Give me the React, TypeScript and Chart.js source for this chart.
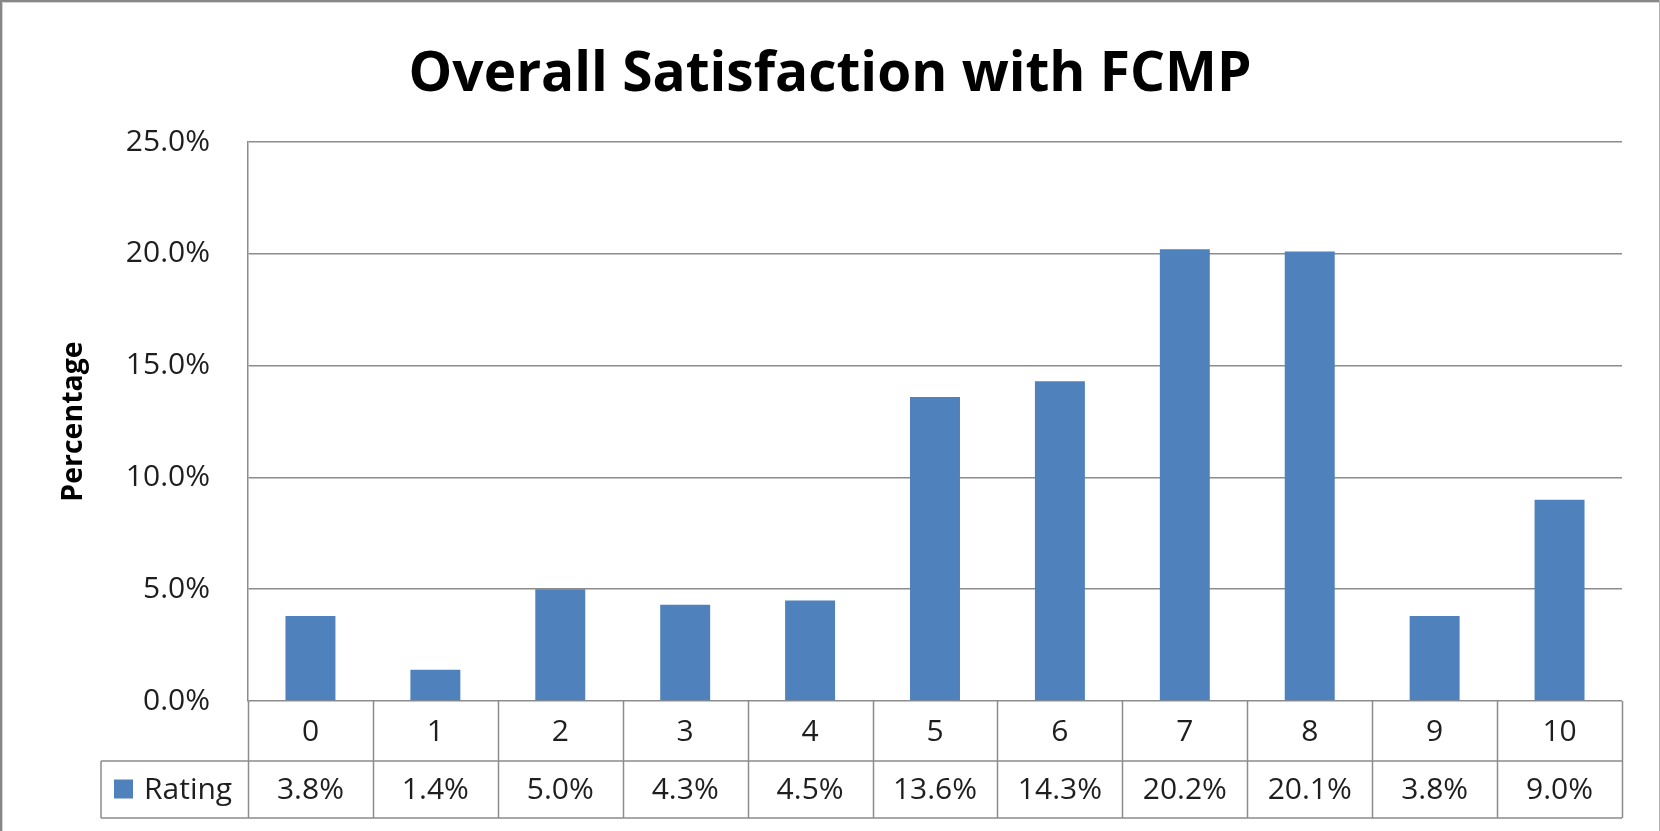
import React, { useEffect, useRef } from "react";
import { Chart, registerables } from "chart.js";

Chart.register(...registerables);

// ---- Data ----
const categories = ["0", "1", "2", "3", "4", "5", "6", "7", "8", "9", "10"];
const ratingValues = [3.8, 1.4, 5.0, 4.3, 4.5, 13.6, 14.3, 20.2, 20.1, 3.8, 9.0];
const seriesName = "Rating";
const yTickValues = [0, 5, 10, 15, 20, 25];
const chartTitle = "Overall Satisfaction with FCMP";
const yAxisTitle = "Percentage";

// ---- Styles ----
const BAR_COLOR = "#4F81BD";
const LINE_COLOR = "#8c8c8c";
const TEXT_COLOR = "#1e1e1e";
const FONT = "'Open Sans', 'Liberation Sans', sans-serif";
const W = 1660;
const H = 831;

const fmt = (v: number) => `${v.toFixed(1)}%`;

const frameAndTablePlugin = {
  id: "frameAndTable",
  beforeDraw(chart: any) {
    const { ctx } = chart;
    ctx.save();
    ctx.fillStyle = "#ffffff";
    ctx.fillRect(0, 0, chart.width, chart.height);
    ctx.restore();
  },
  afterDraw(chart: any) {
    const { ctx, chartArea } = chart;
    const xs = chart.scales.x;
    const n = categories.length;
    const top = chartArea.bottom;
    const mid = top + 60;
    const bot = top + 117;
    const legendLeft = 101;

    ctx.save();
    // table lines
    ctx.strokeStyle = LINE_COLOR;
    ctx.lineWidth = 1.5;
    ctx.beginPath();
    ctx.moveTo(legendLeft, mid);
    ctx.lineTo(chartArea.right, mid);
    ctx.moveTo(legendLeft, bot);
    ctx.lineTo(chartArea.right, bot);
    ctx.moveTo(legendLeft, mid);
    ctx.lineTo(legendLeft, bot);
    for (let i = 0; i <= n; i++) {
      const x = Math.round(xs.getPixelForValue(i - 0.5)) + 0.5;
      ctx.moveTo(x, top);
      ctx.lineTo(x, bot);
    }
    ctx.stroke();

    // texts
    ctx.fillStyle = TEXT_COLOR;
    ctx.font = `30px ${FONT}`;
    ctx.textAlign = "center";
    ctx.textBaseline = "middle";
    for (let i = 0; i < n; i++) {
      const cx = xs.getPixelForValue(i);
      ctx.fillText(categories[i], cx, (top + mid) / 2 + 1);
      ctx.fillText(fmt(ratingValues[i]), cx, (mid + bot) / 2 + 1);
    }
    // legend key
    ctx.fillStyle = BAR_COLOR;
    ctx.fillRect(114, (mid + bot) / 2 - 10, 19, 19);
    ctx.fillStyle = TEXT_COLOR;
    ctx.textAlign = "left";
    ctx.fillText(seriesName, 144, (mid + bot) / 2 + 1);

    // outer frame
    ctx.fillStyle = "#878787";
    ctx.fillRect(0, 0, chart.width, 2);
    ctx.fillRect(0, 0, 2, chart.height);
    ctx.fillStyle = "#d4d4d4";
    ctx.fillRect(2, 2, chart.width - 2, 1);
    ctx.fillRect(2, 2, 1, chart.height - 2);
    ctx.fillStyle = "#b0b0b0";
    ctx.fillRect(chart.width - 1, 0, 1, chart.height);
    ctx.restore();
  },
};

export default function App() {
  const canvasRef = useRef<HTMLCanvasElement | null>(null);

  useEffect(() => {
    document.body.style.margin = "0";
    const canvas = canvasRef.current;
    if (!canvas) return;
    const chart = new Chart(canvas, {
      type: "bar",
      data: {
        labels: categories,
        datasets: [
          {
            label: seriesName,
            data: ratingValues,
            backgroundColor: BAR_COLOR,
            borderWidth: 0,
            categoryPercentage: 1,
            barPercentage: 0.4,
          },
        ],
      },
      options: {
        responsive: false,
        animation: false,
        devicePixelRatio: 1,
        layout: { padding: { top: 0, left: 0, right: 0, bottom: 0 } },
        plugins: {
          legend: { display: false },
          tooltip: { enabled: false },
          title: {
            display: true,
            text: chartTitle,
            color: "#000000",
            font: { family: FONT, size: 55, weight: "bold", lineHeight: 1.2 },
            padding: { top: 42, bottom: 34 },
          },
        },
        scales: {
          x: {
            type: "category",
            offset: true,
            grid: { display: false },
            border: { display: false },
            ticks: { display: false },
            afterFit: (scale: any) => {
              scale.height = 130;
            },
          },
          y: {
            min: 0,
            max: 25,
            afterBuildTicks: (scale: any) => {
              scale.ticks = yTickValues.map((v) => ({ value: v }));
            },
            afterFit: (scale: any) => {
              scale.width = 248;
            },
            grid: {
              color: LINE_COLOR,
              lineWidth: 1.5,
              drawTicks: false,
            },
            border: { display: true, color: LINE_COLOR, width: 1.5 },
            ticks: {
              padding: 38,
              color: TEXT_COLOR,
              font: { family: FONT, size: 30 },
              callback: (v: any) => fmt(Number(v)),
            },
            title: {
              display: true,
              text: yAxisTitle,
              color: "#000000",
              font: { family: FONT, size: 28.5, weight: "bold", lineHeight: 1.2 },
              padding: { top: 57, bottom: 0 },
            },
          },
          // empty right-hand spacer so the plot ends where the reference's does
          spacer: {
            type: "linear",
            position: "right",
            display: true,
            grid: { display: false },
            border: { display: false },
            ticks: { display: false },
            afterFit: (scale: any) => {
              scale.width = 38;
            },
          },
        },
      },
      plugins: [frameAndTablePlugin],
    });
    return () => chart.destroy();
  }, []);

  return (
    <div style={{ width: W, height: H }}>
      <canvas ref={canvasRef} width={W} height={H} style={{ display: "block" }} />
    </div>
  );
}
